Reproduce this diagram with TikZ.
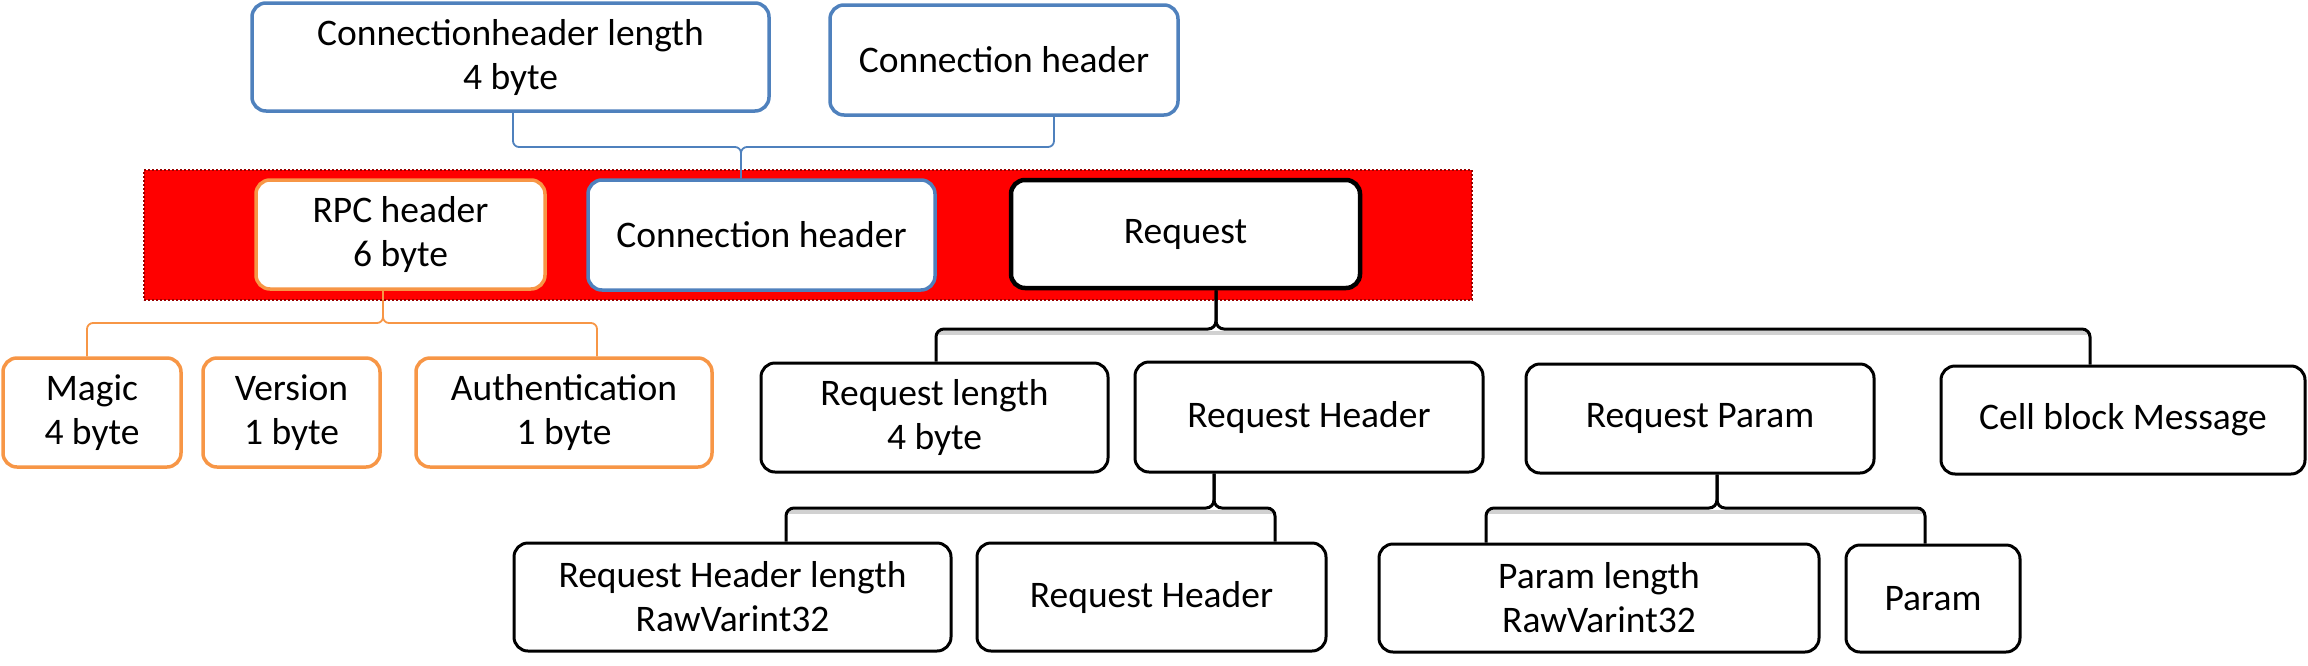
\documentclass[tikz,border=0pt]{standalone}
\usepackage{fontspec}
\setmainfont{Carlito}
\definecolor{ofblue}{HTML}{4F81BD}
\definecolor{oforange}{HTML}{F79646}
\begin{document}
\begin{tikzpicture}[x=1pt,y=-1pt,
  font=\fontsize{37.5}{44}\selectfont,
  box/.style={rounded corners=14pt, fill=white, align=center, inner sep=2pt, line width=3pt, text=black},
  bluebox/.style={box, draw=ofblue, line width=3.5pt},
  orangebox/.style={box, draw=oforange, line width=3.5pt},
  blackbox/.style={box, draw=black, line width=3pt},
  bluecon/.style={draw=ofblue, line width=1.8pt, rounded corners=6pt},
  orangecon/.style={draw=oforange, line width=1.8pt, rounded corners=6pt},
  blackcon/.style={draw=black, line width=3pt, rounded corners=8pt},
  shadowcon/.style={draw=black!18, line width=4pt, rounded corners=8pt, transform canvas={yshift=-4pt}}]
\useasboundingbox (0,0) rectangle (2308,665);
% red band
\node[fill=red, draw=red!60!black, dotted, line width=2pt, minimum width=1328, minimum height=130, inner sep=0] (band) at (808,235) {};
% top
\node[bluebox, minimum width=517, minimum height=108] (cl) at (510.5,57) {Connectionheader length\\4 byte};
\node[bluebox, minimum width=348, minimum height=110] (ch) at (1004,60) {Connection header};
% middle band boxes
\node[orangebox, minimum width=289, minimum height=109] (rpc) at (400.5,234.5) {RPC header\\6 byte};
\node[bluebox, minimum width=347, minimum height=110] (chm) at (761.5,235) {Connection header};
\node[blackbox, line width=4.5pt, minimum width=349, minimum height=108] (req) at (1185.5,234) {Request};
% second row
\node[orangebox, minimum width=178, minimum height=109] (magic) at (92,412.5) {Magic\\4 byte};
\node[orangebox, minimum width=177, minimum height=109] (version) at (291.5,412.5) {Version\\1 byte};
\node[orangebox, minimum width=296, minimum height=109] (auth) at (564,412.5) {Authentication\\1 byte};
\node[blackbox, minimum width=347, minimum height=109] (rl) at (934.5,417.5) {Request length\\4 byte};
\node[blackbox, minimum width=348, minimum height=110] (rh) at (1309,417) {Request Header};
\node[blackbox, minimum width=348, minimum height=109] (rp) at (1700,418.5) {Request Param};
\node[blackbox, minimum width=364, minimum height=108] (cb) at (2123,420) {Cell block Message};
% third row
\node[blackbox, minimum width=437, minimum height=108] (rhl) at (732.5,597) {Request Header length\\RawVarint32};
\node[blackbox, minimum width=349, minimum height=108] (rh2) at (1151.5,597) {Request Header};
\node[blackbox, minimum width=440, minimum height=108] (pl) at (1599,598) {Param length\\RawVarint32};
\node[blackbox, minimum width=174, minimum height=107] (pa) at (1933,598.5) {Param};
% junction coordinates
\coordinate (bc) at (741,147); \coordinate (bl) at (513,147); \coordinate (br) at (1054,147);
\coordinate (oc) at (383,323); \coordinate (ol) at (87,323); \coordinate (or) at (597,323);
\coordinate (kc) at (1216,329); \coordinate (kl) at (936,329); \coordinate (kr) at (2090,329);
\coordinate (hc) at (1214,508); \coordinate (hl) at (786,508); \coordinate (hr) at (1275,508);
\coordinate (pc) at (1717,508); \coordinate (pl0) at (1486,508); \coordinate (pr) at (1925,508);
% blue connectors
\draw[bluecon] (bl |- cl.south) -- (bl) -- (bc) -- (bc |- chm.north);
\draw[bluecon] (br |- ch.south) -- (br) -- (bc) -- (bc |- chm.north);
% orange connectors
\draw[orangecon] (oc |- rpc.south) -- (oc) -- (ol) -- (ol |- magic.north);
\draw[orangecon] (oc |- rpc.south) -- (oc) -- (or) -- (or |- auth.north);
% black connector shadows
\draw[shadowcon] (kl) -- (kr);
\draw[shadowcon] (hl) -- (hr);
\draw[shadowcon] (pl0) -- (pr);
% black connectors
\draw[blackcon] (kc |- req.south) -- (kc) -- (kl) -- (kl |- rl.north);
\draw[blackcon] (kc |- req.south) -- (kc) -- (kr) -- (kr |- cb.north);
\draw[blackcon] (hc |- rh.south) -- (hc) -- (hl) -- (hl |- rhl.north);
\draw[blackcon] (hc |- rh.south) -- (hc) -- (hr) -- (hr |- rh2.north);
\draw[blackcon] (pc |- rp.south) -- (pc) -- (pl0) -- (pl0 |- pl.north);
\draw[blackcon] (pc |- rp.south) -- (pc) -- (pr) -- (pr |- pa.north);
\end{tikzpicture}
\end{document}
